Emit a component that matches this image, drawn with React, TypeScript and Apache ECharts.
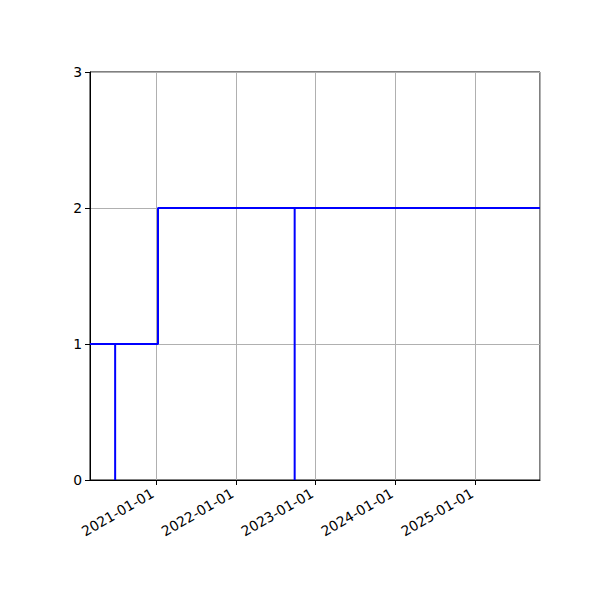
import React, { useEffect, useRef } from "react";
import * as echarts from "echarts";

// Polyline vertices (date, count): a step path with two spikes down to 0
const pointDates = [
  "2020-03-05",
  "2020-06-28",
  "2020-06-28",
  "2020-06-28",
  "2021-01-10",
  "2021-01-10",
  "2022-09-27",
  "2022-09-27",
  "2022-09-27",
  "2025-10-23",
];
const pointValues = [1, 1, 0, 1, 1, 2, 2, 0, 2, 2];

const xMin = "2020-03-05";
const xMax = "2025-10-23";
const yTicks = [0, 1, 2, 3];

const YEAR = 365 * 24 * 3600 * 1000;

export default function App() {
  const ref = useRef<HTMLDivElement>(null);
  useEffect(() => {
    document.body.style.margin = "0";
    const chart = echarts.init(ref.current!, undefined, { renderer: "svg" });
    const font = "DejaVu Sans";
    chart.setOption({
      animation: false,
      backgroundColor: "#ffffff",
      grid: {
        left: 90,
        right: 60,
        top: 72,
        bottom: 120,
        show: true,
        borderColor: "#000000",
        borderWidth: 1,
        backgroundColor: "transparent",
      },
      xAxis: {
        type: "time",
        min: xMin,
        max: xMax,
        minInterval: YEAR,
        maxInterval: YEAR + 24 * 3600 * 1000,
        axisLine: { show: true, lineStyle: { color: "#000", width: 1 } },
        axisTick: { show: true, inside: false, length: 5, lineStyle: { color: "#000", width: 1 } },
        splitLine: { show: true, lineStyle: { color: "#b0b0b0", width: 1 } },
        axisLabel: {
          show: true,
          rotate: 30,
          margin: 10,
          padding: [0, 4, 0, 0],
          color: "#000",
          fontFamily: font,
          fontSize: 13.9,
          showMinLabel: false,
          showMaxLabel: false,
          hideOverlap: false,
          formatter: "{yyyy}-{MM}-{dd}",
        },
      },
      yAxis: {
        type: "value",
        min: yTicks[0],
        max: yTicks[yTicks.length - 1],
        interval: 1,
        axisLine: { show: true, lineStyle: { color: "#000", width: 1 } },
        axisTick: { show: true, inside: false, length: 5, lineStyle: { color: "#000", width: 1 } },
        splitLine: { show: true, lineStyle: { color: "#b0b0b0", width: 1 } },
        axisLabel: {
          color: "#000",
          fontFamily: font,
          fontSize: 13.9,
          margin: 8,
        },
      },
      series: [
        {
          type: "line",
          data: pointDates.map((d, i) => [d, pointValues[i]]),
          showSymbol: false,
          symbol: "none",
          clip: true,
          lineStyle: { color: "#0000ff", width: 2 },
          z: 5,
        },
      ],
    });
    return () => chart.dispose();
  }, []);
  return <div ref={ref} style={{ width: 600, height: 600 }} />;
}
